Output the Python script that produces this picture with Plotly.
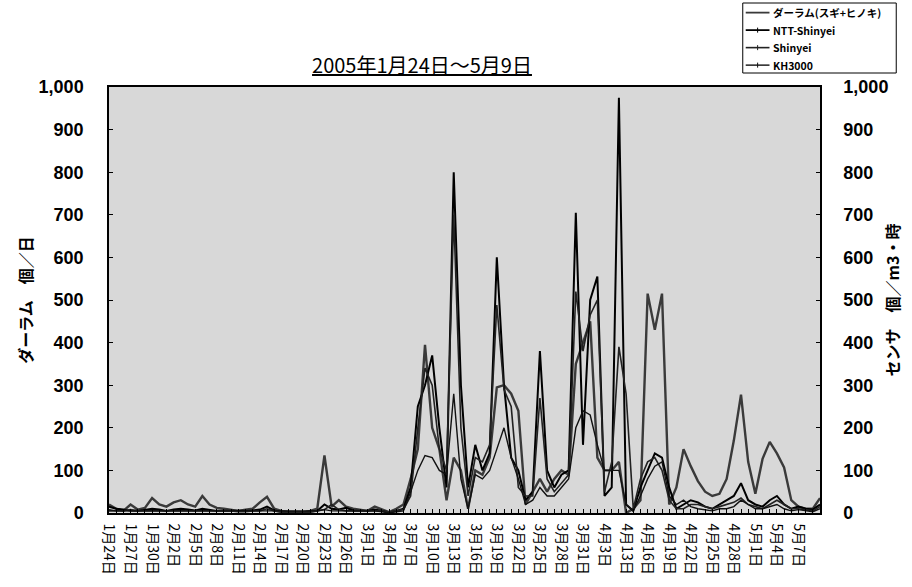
import pandas as pd
import plotly.graph_objects as go

# ---- categories (daily, with a gap 4/6-4/12) ----
dates = list(pd.date_range("2005-01-24", "2005-04-05")) + list(pd.date_range("2005-04-13", "2005-05-10"))
date_labels = [f"{d.month}月{d.day}日" for d in dates]
xs = list(range(len(dates)))

# ---- series values ----
durham = [20, 10, 5, 20, 8, 12, 35, 20, 15, 25, 30, 20, 15, 40, 20, 12, 10, 8, 5, 8,
          10, 25, 38, 10, 5, 3, 3, 2, 5, 10, 135, 15, 30, 15, 10, 8, 5, 15, 8, 2,
          10, 20,
          80, 150, 395, 200, 150, 30, 130, 100, 10, 100, 90, 130, 295, 300, 280, 240, 20, 50,
          80, 50, 80, 100, 90, 350, 400, 450, 130, 100, 100, 120,
          0, 10, 30, 515, 430, 515, 20, 60, 150, 110, 75, 50, 40, 45, 80, 170, 278, 120,
          45, 127, 167, 140, 107, 30, 15, 10, 10, 35]
ntt_shinyei = [15, 10, 8, 5, 5, 8, 10, 8, 5, 8, 10, 8, 6, 10, 8, 5, 5, 5, 4, 5,
               6, 8, 15, 6, 3, 2, 2, 2, 3, 5, 20, 10, 8, 12, 6, 5, 5, 8, 5, 2,
               5, 10,
               60, 250, 300, 370, 200, 60, 800, 300, 60, 160, 100, 140, 600, 300, 130, 100, 30, 50,
               380, 100, 60, 90, 100, 705, 160, 500, 555, 40, 60, 975,
               20, 5, 60, 100, 140, 130, 60, 10, 20, 30, 25, 15, 10, 20, 30, 40, 70, 30,
               20, 15, 30, 40, 20, 10, 15, 10, 8, 20]
shinyei = [5, 5, 5, 8, 5, 5, 5, 5, 5, 5, 5, 5, 5, 5, 5, 5, 5, 5, 3, 3,
           5, 5, 10, 5, 2, 2, 2, 2, 2, 5, 8, 20, 8, 5, 5, 5, 5, 5, 5, 2,
           5, 8,
           40, 200, 340, 300, 150, 100, 700, 200, 40, 130, 120, 160, 488, 290, 250, 60, 40, 40,
           270, 80, 50, 70, 90, 520, 380, 465, 500, 50, 120, 390,
           280, 10, 80, 120, 130, 100, 30, 10, 10, 20, 20, 15, 10, 15, 20, 25, 35, 20,
           15, 10, 20, 30, 20, 10, 10, 8, 5, 15]
kh3000 = [8, 5, 5, 5, 5, 5, 5, 5, 5, 5, 5, 5, 5, 5, 5, 5, 5, 5, 5, 5,
          5, 5, 5, 5, 5, 5, 5, 5, 5, 5, 8, 5, 5, 5, 5, 5, 5, 5, 3, 0,
          3, 5,
          50, 100, 135, 130, 100, 90, 280, 80, 10, 90, 80, 100, 150, 200, 130, 80, 20, 30,
          60, 40, 40, 60, 80, 200, 240, 230, 160, 100, 100, 100,
          20, 5, 40, 80, 110, 120, 40, 20, 30, 15, 10, 8, 5, 10, 10, 15, 30, 20,
          10, 10, 15, 20, 10, 5, 8, 5, 3, 10]

series_names = ["ダーラム(スギ+ヒノキ)", "NTT-Shinyei", "Shinyei", "KH3000"]
title_text = "2005年1月24日～5月9日"
left_title = "ダーラム　個／日"
right_title = "センサ　個／m3・時"

tick_idx = xs[::3][:33]
tick_txt = [date_labels[i] for i in tick_idx]

# styles: (colour, width, y-axis, has tick marker in legend key)
styles = [("#3a3a3a", 2.4, "y", False), ("#000000", 2.0, "y2", True),
          ("#222222", 1.6, "y2", True), ("#111111", 1.4, "y2", True)]

fig = go.Figure()
for name, vals, (col, w, ax, _) in zip(series_names, [durham, ntt_shinyei, shinyei, kh3000], styles):
    fig.add_trace(go.Scatter(x=xs, y=vals, name=name, mode="lines", yaxis=ax,
                             line=dict(color=col, width=w), showlegend=False))

num_font = dict(family="Liberation Sans, Arial, sans-serif", size=18, color="black", weight="bold")
jp = "Noto Sans CJK JP"

L, R, T, B = 109, 827, 87, 513  # plot-area edges in px
W, H = 912, 587


def px(xp):
    return (xp - L) / (R - L)


def py(yp):
    return (B - yp) / (B - T)


# ---- compact legend box (key lines + labels) ----
LEG_X0, LEG_X1, LEG_Y0, LEG_Y1 = 749, 904, 3, 73
row_h = (LEG_Y1 - LEG_Y0) / len(series_names)
shapes = [dict(type="rect", xref="paper", yref="paper",
               x0=px(LEG_X0), x1=px(LEG_X1), y0=py(LEG_Y1), y1=py(LEG_Y0),
               line=dict(color="black", width=1), fillcolor="white", layer="above")]
annotations = []
for i, (name, (col, w, ax, tick)) in enumerate(zip(series_names, styles)):
    yc = LEG_Y0 + row_h * (i + 0.55)
    shapes.append(dict(type="line", xref="paper", yref="paper",
                       x0=px(752), x1=px(776), y0=py(yc), y1=py(yc),
                       line=dict(color=col, width=min(w, 1.8)), layer="above"))
    if tick:
        shapes.append(dict(type="line", xref="paper", yref="paper",
                           x0=px(764), x1=px(764), y0=py(yc - 2.5), y1=py(yc + 2.5),
                           line=dict(color=col, width=1), layer="above"))
    annotations.append(dict(text=name, xref="paper", yref="paper", x=px(778), y=py(yc),
                            xanchor="left", yanchor="middle", showarrow=False,
                            font=dict(family=jp, size=10.5, color="black", weight="bold")))

fig.update_layout(
    width=W, height=H,
    margin=dict(l=L, r=W - R, t=T, b=H - B),
    paper_bgcolor="white",
    plot_bgcolor="#d8d8d8",
    showlegend=False,
    shapes=shapes,
    annotations=annotations,
    title=dict(text=title_text, x=422 / W, xanchor="center", xref="container",
               y=1 - 66 / H, yanchor="middle", yref="container",
               font=dict(family=jp, size=20, color="black", lineposition="under")),
    xaxis=dict(range=[0, len(xs) - 1], tickmode="array", tickvals=tick_idx, ticktext=tick_txt,
               tickangle=90, tickfont=dict(family=jp, size=14, color="black"),
               ticks="inside", ticklen=4, tickcolor="black", ticklabelstandoff=6,
               minor=dict(tickmode="array", tickvals=xs, ticks="inside", ticklen=4, tickcolor="black"),
               showline=True, linecolor="black", linewidth=1.5, mirror=True,
               showgrid=False, zeroline=False),
    yaxis=dict(range=[0, 1000], dtick=100, tickformat=",d", tickfont=num_font,
               ticks="inside", ticklen=4, tickcolor="black", ticklabelstandoff=20,
               showline=True, linecolor="black", linewidth=1.5,
               showgrid=False, zeroline=False,
               title=dict(text=left_title, standoff=2,
                          font=dict(family=jp, size=16, color="black", weight="bold"))),
    yaxis2=dict(range=[0, 1000], dtick=100, tickformat=",d", tickfont=num_font,
                overlaying="y", side="right",
                ticks="inside", ticklen=4, tickcolor="black", ticklabelstandoff=18,
                showline=True, linecolor="black", linewidth=1.5,
                showgrid=False, zeroline=False,
                title=dict(text=right_title, standoff=0,
                           font=dict(family=jp, size=16, color="black", weight="bold"))),
)

fig.write_html("out.html", config={"displayModeBar": False},
               post_script="document.body.style.margin='0';")
